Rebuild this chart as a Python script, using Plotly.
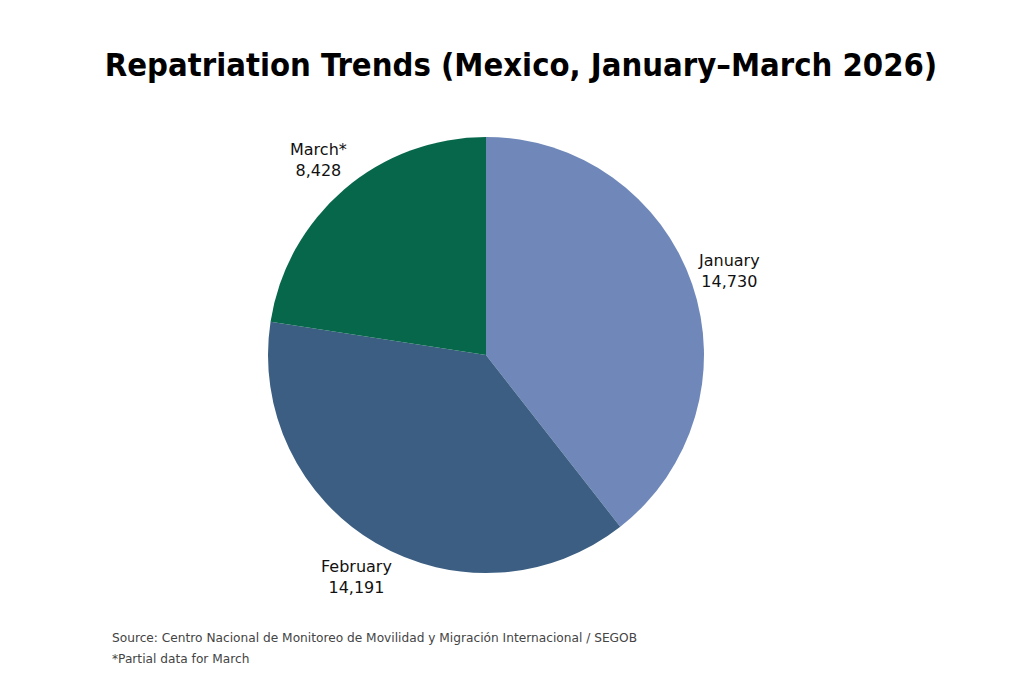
import math
import plotly.graph_objects as go

# Repatriation counts, Mexico Q1 2026
months = ["January", "February", "March*"]
repatriations = [14730, 14191, 8428]
sliceColors = ["#6f88b9", "#3b5e82", "#07674a"]

# page body adds 8px margin, so positions are shifted back by that much
off = 8
W, H = 1024, 682
cx, cy, R = 486 - off, 355 - off, 218   # pie centre / radius in px
labelR = 257                            # labels sit centred on this radius

fig = go.Figure(go.Pie(
    labels=months,
    values=repatriations,
    textinfo="none",
    sort=False,
    direction="clockwise",
    rotation=0,
    marker=dict(colors=sliceColors, line=dict(width=0)),
    showlegend=False,
    domain=dict(x=[(cx - R) / W, (cx + R) / W],
                y=[1 - (cy + R) / H, 1 - (cy - R) / H]),
))

# outside labels at each slice's mid angle
total = float(sum(repatriations))
notes = []
cum = 0
for m, v in zip(months, repatriations):
    mid = (cum + v / 2.0) / total * 2 * math.pi
    cum += v
    px = cx + labelR * math.sin(mid)
    py = cy - labelR * math.cos(mid)
    notes.append(dict(
        text="%s<br>%s" % (m, format(v, ",")),
        x=px / W, y=1 - py / H,
        xref="paper", yref="paper",
        xanchor="center", yanchor="middle",
        align="center", showarrow=False,
        font=dict(size=16, color="#111111"),
    ))

notes.append(dict(
    text="Source: Centro Nacional de Monitoreo de Movilidad y Migraci\u00f3n Internacional / SEGOB",
    x=(110 - off) / W, y=1 - (638 - off) / H,
    xref="paper", yref="paper",
    xanchor="left", yanchor="middle",
    align="left", showarrow=False,
    font=dict(size=12.2, color="#444444"),
))
notes.append(dict(
    text="*Partial data for March",
    x=(110 - off) / W, y=1 - (659 - off) / H,
    xref="paper", yref="paper",
    xanchor="left", yanchor="middle",
    align="left", showarrow=False,
    font=dict(size=12.2, color="#444444"),
))

fig.update_layout(
    width=W,
    height=H,
    paper_bgcolor="white",
    margin=dict(l=0, r=0, t=0, b=0),
    font=dict(family="DejaVu Sans", color="#111111"),
    title=dict(
        text="<b>Repatriation Trends (Mexico, January\u2013March 2026)</b>",
        x=(521 - off) / W, xanchor="center",
        y=1 - 57 / H, yanchor="middle",
        font=dict(family="DejaVu Sans Condensed", size=32.5, color="#000000"),
    ),
    annotations=notes,
)

fig.write_html("out.html")
